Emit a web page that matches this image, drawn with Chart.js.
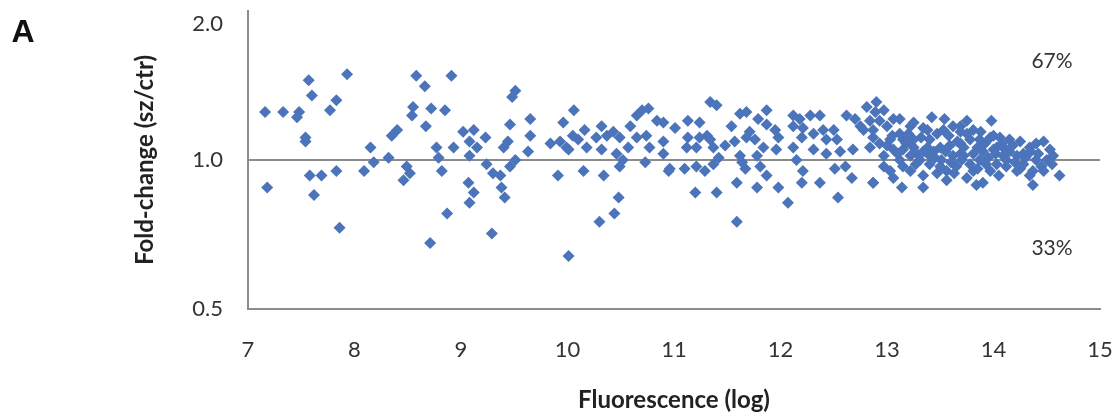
<!DOCTYPE html>
<html>
<head>
<meta charset="utf-8">
<title>Fold-change vs fluorescence</title>
<script src="https://cdn.jsdelivr.net/npm/chart.js@4/dist/chart.umd.min.js"></script>
<style>
    html, body { margin: 0; padding: 0; background: #ffffff; }
    #wrap { width: 1118px; height: 420px; }
</style>
</head>
<body>
<div id="wrap"><canvas id="foldChart" width="1118" height="420"></canvas></div>
<script>
// ========== DATOS ==========
const xTicks = [7, 8, 9, 10, 11, 12, 13, 14, 15];
const yTicks = [0.5, 1.0, 2.0];
const baseline = 1.0;
const upLabel = '67%';
const downLabel = '33%';

// fluorescence (log) - x of each spot
const fluorescence = [
    7.16, 7.33, 7.48, 7.46, 7.57, 7.60, 7.54, 7.54, 7.83, 7.77, 7.93, 7.18, 7.58, 7.69, 7.83, 7.62, 7.86,
    8.15, 8.09, 8.18, 8.32, 8.35, 8.40, 8.49, 8.52, 8.46, 8.58, 8.66, 8.55, 8.54, 8.72, 8.85, 8.67, 8.91,
    8.77, 8.79, 8.82, 8.93, 8.87, 8.71,
    9.51, 9.48, 9.46, 9.65, 9.65, 9.63, 9.02, 9.12, 9.23, 9.08, 9.15, 9.08, 9.44, 9.40, 9.24, 9.30, 9.37, 9.51,
    9.46, 9.38, 9.41, 9.07, 9.12, 9.08, 9.29, 10.01, 9.91, 10.15, 10.34, 10.48, 10.44, 10.30, 10.06, 9.96, 9.84, 9.93,
    9.99, 10.10, 10.16, 10.05, 10.01, 10.18, 10.27, 10.32, 10.37, 10.32, 10.43, 10.49, 10.59, 10.65, 10.70, 10.76, 10.84, 10.74,
    10.65, 10.57, 10.46, 10.52, 10.49, 10.73, 10.77, 10.90, 10.90, 10.95,
    11.34, 11.40, 11.13, 11.01, 11.24, 10.90, 11.13, 11.24, 11.31, 11.12, 11.21, 11.37,
    11.34, 10.96, 11.10, 11.21, 11.29, 11.37, 11.42, 11.20, 11.40, 11.59, 11.59, 11.64,
    11.62, 11.54, 11.62, 11.68, 11.48, 11.57, 11.68, 11.71, 11.78, 11.76, 11.67, 11.78,
    11.81, 11.87, 11.98, 12.07, 11.87, 11.79, 11.87, 11.95, 11.98, 11.84, 11.96, 12.12,
    12.18, 12.28, 12.37, 12.21, 12.12, 12.20, 12.31, 12.40, 12.43, 12.50, 12.12, 12.15,
    12.21, 12.20, 12.31, 12.37, 12.43, 12.53, 12.56, 12.51, 12.61, 12.67, 12.54, 12.62,
    12.70, 12.75, 12.68, 12.81, 12.84, 12.87, 12.84, 12.87, 12.78,
    12.90, 12.97, 12.93, 12.87, 13.00, 13.06, 13.12, 13.03, 12.93, 12.97, 12.97, 12.87,
    13.06, 13.14, 13.12, 13.15, 13.22, 13.25, 13.34, 13.42, 13.32, 13.40, 13.47, 13.54,
    13.53, 13.62, 13.69, 13.75, 13.69, 13.81, 13.98, 13.25, 13.34, 13.44, 13.50, 13.59,
    13.69, 13.78, 13.87, 13.97, 14.06, 13.31, 13.40, 13.51, 13.62, 13.72, 13.81, 13.90,
    14.00, 14.09, 14.15, 14.22, 14.28, 14.34, 14.40, 14.47, 14.53, 14.56, 14.50, 14.40,
    14.37, 14.34, 14.37, 14.62, 14.22, 14.12, 14.03, 13.93, 13.81, 13.75, 13.84, 13.90,
    13.65, 13.56, 13.56, 13.47, 13.34, 13.34, 13.22, 13.03, 13.22, 13.06, 13.12, 13.25,
    14.25, 14.15, 14.03, 14.28, 14.47, 14.55, 12.89, 13.15, 13.69, 13.87, 14.09,
    13.05, 13.18, 13.28, 13.38, 13.45, 13.55, 13.60, 13.66, 13.72, 13.78, 13.85, 13.92,
    13.95, 14.02, 14.08, 14.12, 14.18, 14.20, 14.30, 14.35, 14.42, 14.45, 13.50, 13.40,
    13.27, 13.20, 13.10, 13.00, 13.38, 13.58, 13.75, 13.88, 14.00, 13.63, 13.97, 14.25,
    13.15, 13.70, 14.05, 13.85
];

// fold-change (sz/ctr) - y of each spot
const foldChange = [
    1.25, 1.25, 1.25, 1.22, 1.45, 1.35, 1.11, 1.09, 1.32, 1.26, 1.49, 0.88, 0.93, 0.93, 0.95, 0.85, 0.73,
    1.06, 0.95, 0.99, 1.01, 1.12, 1.15, 0.97, 0.94, 0.91, 1.48, 1.41, 1.28, 1.23, 1.27, 1.26, 1.17, 1.48,
    1.06, 1.01, 0.95, 1.06, 0.78, 0.68,
    1.38, 1.34, 1.18, 1.21, 1.12, 1.04, 1.14, 1.15, 1.11, 1.09, 1.06, 1.02, 1.09, 1.06, 0.98, 0.94, 0.93, 1.00,
    0.97, 0.88, 0.84, 0.90, 0.86, 0.82, 0.71, 0.64, 0.93, 0.95, 0.93, 0.84, 0.78, 0.75, 1.26, 1.19, 1.08, 1.09,
    1.06, 1.10, 1.15, 1.12, 1.05, 1.06, 1.11, 1.17, 1.12, 1.05, 1.14, 1.11, 1.17, 1.23, 1.26, 1.27, 1.20, 1.12,
    1.11, 1.06, 1.03, 1.00, 0.97, 0.99, 1.06, 1.09, 1.03, 0.95,
    1.31, 1.29, 1.20, 1.16, 1.19, 1.19, 1.11, 1.11, 1.12, 1.06, 1.06, 1.06,
    1.10, 0.96, 0.96, 0.97, 0.95, 0.98, 1.01, 0.86, 0.86, 0.75, 0.90, 0.99,
    1.02, 1.17, 1.24, 1.25, 1.07, 1.09, 1.11, 1.14, 1.02, 1.10, 0.96, 0.88,
    0.97, 0.93, 0.88, 0.82, 1.26, 1.21, 1.18, 1.15, 1.11, 1.06, 1.05, 1.23,
    1.21, 1.23, 1.23, 1.16, 1.17, 1.11, 1.13, 1.15, 1.10, 1.15, 1.06, 1.00,
    0.95, 0.90, 1.05, 0.90, 1.03, 1.10, 1.04, 0.96, 0.97, 0.92, 0.84, 1.23,
    1.21, 1.17, 1.05, 1.28, 1.20, 1.11, 1.06, 0.90, 1.15,
    1.31, 1.26, 1.20, 1.15, 1.17, 1.21, 1.21, 1.10, 1.08, 1.02, 0.97, 0.90,
    0.92, 0.88, 1.00, 1.10, 1.17, 1.19, 1.16, 1.22, 1.11, 1.10, 1.13, 1.21,
    1.15, 1.17, 1.17, 1.20, 1.14, 1.15, 1.20, 1.06, 1.04, 1.04, 1.06, 1.07,
    1.08, 1.10, 1.10, 1.11, 1.11, 1.00, 0.98, 1.00, 1.02, 1.02, 1.03, 1.04,
    1.05, 1.06, 1.04, 1.02, 1.03, 1.06, 1.08, 1.09, 1.05, 1.02, 1.00, 1.00,
    0.95, 0.93, 0.89, 0.93, 0.95, 0.97, 0.98, 0.98, 0.95, 0.92, 0.89, 0.90,
    0.97, 0.95, 0.91, 0.94, 0.93, 0.88, 0.95, 0.95, 1.02, 1.05, 1.13, 1.10,
    1.09, 1.10, 1.06, 0.98, 0.95, 0.98, 1.25, 1.05, 1.03, 1.00, 1.02,
    1.12, 1.08, 1.03, 1.06, 1.01, 1.04, 0.99, 1.09, 1.06, 0.98, 1.06, 1.08,
    1.01, 1.03, 1.08, 1.00, 1.07, 0.99, 1.01, 1.04, 1.03, 0.97, 0.97, 1.02,
    0.98, 1.13, 1.03, 1.07, 1.15, 1.12, 1.13, 1.14, 1.12, 0.94, 0.95, 0.96,
    0.97, 1.00, 0.93, 0.96
];

const n = Math.min(fluorescence.length, foldChange.length);
const spots = [];
for (let i = 0; i < n; i++) {
    spots.push({ x: fluorescence[i], y: foldChange[i] });
}

const axisGrey = '#8c8c8c';
const tickFont = { family: 'Lato, "Open Sans", sans-serif', size: 22 };
const titleFont = { family: 'Lato, "Open Sans", sans-serif', size: 24, weight: 'bold' };

// sin relleno automatico: el area del grafico queda fija
function noPad(s) {
    s.paddingTop = 0;
    s.paddingBottom = 0;
    s.paddingLeft = 0;
    s.paddingRight = 0;
}

// texto extra: letra del panel y porcentajes
const panelText = {
    id: 'panelText',
    afterDraw(chart) {
        const ctx = chart.ctx;
        ctx.save();
        ctx.textAlign = 'center';
        ctx.textBaseline = 'middle';
        ctx.fillStyle = '#111111';
        ctx.font = 'bold 32px "Liberation Sans", Arial, sans-serif';
        ctx.fillText('A', 23, 33);
        ctx.fillStyle = '#333333';
        ctx.font = '21px Lato, "Open Sans", sans-serif';
        ctx.fillText(upLabel, 1052, 61);
        ctx.fillText(downLabel, 1052, 248);
        ctx.restore();
    }
};

new Chart(document.getElementById('foldChart'), {
    type: 'scatter',
    data: {
        datasets: [{
            label: 'Fold-change',
            data: spots,
            pointStyle: 'rectRot',
            pointRadius: 6,
            pointHoverRadius: 6,
            borderWidth: 0,
            backgroundColor: '#4B74BB'
        }]
    },
    options: {
        responsive: false,
        animation: false,
        layout: { autoPadding: false, padding: { left: 122, right: 18, top: 11, bottom: 0 } },
        plugins: {
            legend: { display: false },
            tooltip: { enabled: false }
        },
        scales: {
            x: {
                type: 'linear',
                min: 7,
                max: 15,
                afterBuildTicks: s => { s.ticks = xTicks.map(v => ({ value: v })); },
                afterFit: s => { s.height = 111; noPad(s); },
                ticks: { padding: 28, color: '#333333', font: tickFont, maxRotation: 0 },
                grid: { display: false, drawTicks: false },
                border: { color: axisGrey, width: 2 },
                title: { display: true, text: 'Fluorescence (log)', color: '#222222', font: titleFont, padding: { top: 0, bottom: 5 } }
            },
            y: {
                type: 'logarithmic',
                min: 0.5,
                max: 2,
                afterBuildTicks: s => { s.ticks = yTicks.map(v => ({ value: v })); },
                afterFit: s => { s.width = 126; noPad(s); },
                ticks: {
                    padding: 25,
                    color: '#333333',
                    font: tickFont,
                    callback: v => v === 2 ? ['', v.toFixed(1)] : Number(v).toFixed(1)
                },
                grid: {
                    drawTicks: false,
                    lineWidth: 2,
                    color: c => (c.tick && c.tick.value === baseline) ? axisGrey : 'rgba(0,0,0,0)'
                },
                border: { color: axisGrey, width: 2 },
                title: { display: true, text: 'Fold-change (sz/ctr)', color: '#222222', font: titleFont, padding: { top: 9, bottom: 0 } }
            }
        }
    },
    plugins: [panelText]
});
</script>
</body>
</html>
